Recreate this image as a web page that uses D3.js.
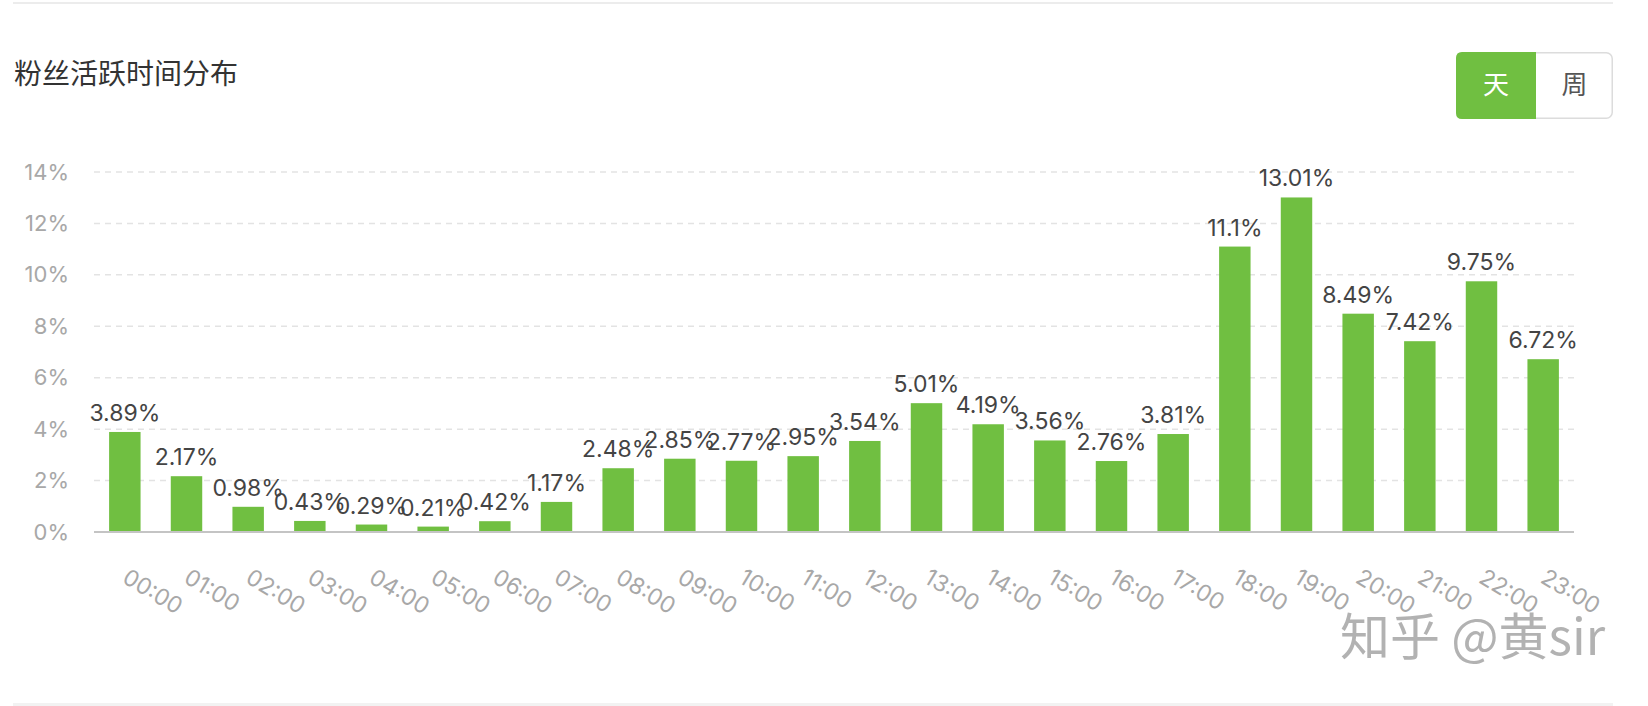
<!DOCTYPE html>
<html><head><meta charset="utf-8">
<script src="https://cdn.jsdelivr.net/npm/d3@7"></script>
<style>
html,body{margin:0;padding:0;background:#fff;}
svg{display:block;}
</style></head>
<body>
<svg id="chart" width="1648" height="706"></svg>
<script>
const title = "粉丝活跃时间分布";
const hours = ["00:00","01:00","02:00","03:00","04:00","05:00","06:00","07:00","08:00","09:00","10:00","11:00","12:00","13:00","14:00","15:00","16:00","17:00","18:00","19:00","20:00","21:00","22:00","23:00"];
const values = [3.89,2.17,0.98,0.43,0.29,0.21,0.42,1.17,2.48,2.85,2.77,2.95,3.54,5.01,4.19,3.56,2.76,3.81,11.1,13.01,8.49,7.42,9.75,6.72];
const valueLabels = ["3.89%","2.17%","0.98%","0.43%","0.29%","0.21%","0.42%","1.17%","2.48%","2.85%","2.77%","2.95%","3.54%","5.01%","4.19%","3.56%","2.76%","3.81%","11.1%","13.01%","8.49%","7.42%","9.75%","6.72%"];
const yTicks = [0,2,4,6,8,10,12,14];
const toggleLabels = ["天","周"];
const watermark = "知乎 @黄sir";

const svg = d3.select("#chart");
const latin = "Inter, 'Noto Sans CJK SC', sans-serif";
const cjk = "'Noto Sans CJK SC', sans-serif";
const green = "#70bf41";

// frame lines
svg.append("rect").attr("x",13).attr("y",2).attr("width",1600).attr("height",2).attr("fill","#ececec");
svg.append("rect").attr("x",13).attr("y",703).attr("width",1600).attr("height",3).attr("fill","#f2f2f2");

// title
svg.append("text").attr("x",14).attr("y",84).attr("font-family",cjk).attr("font-size",28)
  .attr("fill","#333").text(title);

// toggle
const tg = svg.append("g");
const bx0=1456, bx1=1613, by0=52, by1=119, bm=1536, r=6;
tg.append("rect").attr("x",bx0+0.75).attr("y",by0+0.75).attr("width",bx1-bx0-1.5).attr("height",by1-by0-1.5)
  .attr("rx",r).attr("fill","#fff").attr("stroke","#dcdcdc").attr("stroke-width",1.5);
tg.append("path").attr("d",`M${bm},${by0} L${bx0+r},${by0} Q${bx0},${by0} ${bx0},${by0+r} L${bx0},${by1-r} Q${bx0},${by1} ${bx0+r},${by1} L${bm},${by1} Z`)
  .attr("fill",green);
tg.append("text").attr("x",(bx0+bm)/2).attr("y",94).attr("text-anchor","middle").attr("font-family",cjk)
  .attr("font-size",26).attr("fill","#fff").text(toggleLabels[0]);
tg.append("text").attr("x",(bm+bx1)/2).attr("y",94).attr("text-anchor","middle").attr("font-family",cjk)
  .attr("font-size",26).attr("fill","#555").text(toggleLabels[1]);

// scales
const x0=94, x1=1574, yBase=532, yTop=172;
const x = d3.scaleBand().domain(hours).range([x0,x1]).paddingInner(0.49).paddingOuter(0.245);
const y = d3.scaleLinear().domain([0,14]).range([yBase,yTop]);

// grid
const grid = svg.append("g");
grid.selectAll("line").data(yTicks.filter(d=>d>0)).join("line")
  .attr("x1",x0).attr("x2",x1).attr("y1",d=>y(d)).attr("y2",d=>y(d))
  .attr("stroke","#e3e3e3").attr("stroke-width",1.5).attr("stroke-dasharray","6,5");

// y axis
const yAxis = svg.append("g").attr("transform",`translate(${x0},0)`)
  .call(d3.axisLeft(y).tickValues(yTicks).tickFormat(d=>d+"%").tickSize(0).tickPadding(25));
yAxis.select(".domain").remove();
yAxis.selectAll("text").attr("font-family",latin).attr("font-size",22).attr("fill","#a8a8a8");

// bars
svg.append("g").selectAll("rect").data(values).join("rect")
  .attr("x",(d,i)=>x(hours[i])).attr("width",x.bandwidth())
  .attr("y",d=>y(d)).attr("height",d=>yBase-y(d)).attr("fill",green);

// x axis
const xAxis = svg.append("g").attr("transform",`translate(0,${yBase})`)
  .call(d3.axisBottom(x).tickSize(0).tickFormat(d=>d));
xAxis.select(".domain").attr("stroke","#c4c4c4").attr("stroke-width",2).attr("d",`M${x0},0H${x1}`);
xAxis.selectAll(".tick text")
  .attr("font-family",latin).attr("font-size",23).attr("fill","#a8a8a8")
  .attr("text-anchor","start").attr("y",0).attr("dy","0.75em")
  .attr("transform","translate(5,35) rotate(31)");

// value labels
svg.append("g").selectAll("text").data(values).join("text")
  .attr("x",(d,i)=>x(hours[i])+x.bandwidth()/2).attr("y",d=>y(d)-11)
  .attr("text-anchor","middle").attr("font-family",latin).attr("font-size",23).attr("fill","#444")
  .text((d,i)=>valueLabels[i]);

// watermark
const wm = svg.append("g");
wm.append("text").attr("x",1342).attr("y",656).attr("font-family",cjk).attr("font-size",50)
  .attr("fill","#fff").attr("opacity",0.9).text(watermark);
wm.append("text").attr("x",1340).attr("y",655).attr("font-family",cjk).attr("font-size",50)
  .attr("fill","#aaa").attr("opacity",0.9).text(watermark);
</script>
</body></html>
